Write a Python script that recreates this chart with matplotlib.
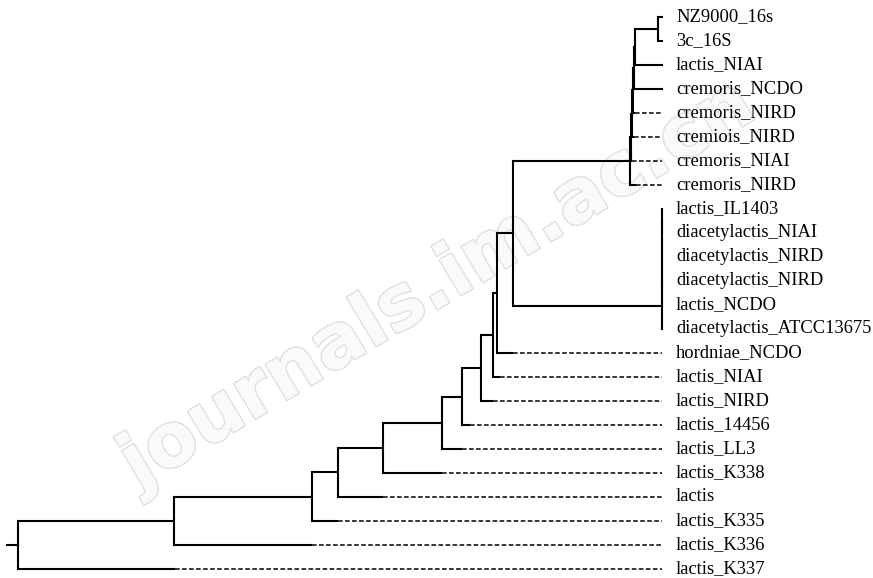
import matplotlib.pyplot as plt
import matplotlib.patheffects as pe

# leaves, top to bottom
leaf_names = ['NZ9000_16s', '3c_16S', 'lactis_NIAI', 'cremoris_NCDO', 'cremoris_NIRD',
              'cremiois_NIRD', 'cremoris_NIAI', 'cremoris_NIRD', 'lactis_IL1403',
              'diacetylactis_NIAI', 'diacetylactis_NIRD', 'diacetylactis_NIRD', 'lactis_NCDO',
              'diacetylactis_ATCC13675', 'hordniae_NCDO', 'lactis_NIAI', 'lactis_NIRD',
              'lactis_14456', 'lactis_LL3', 'lactis_K338', 'lactis', 'lactis_K335',
              'lactis_K336', 'lactis_K337']
# where the drawn (solid) branch of each leaf stops; the rest is a dashed guide
leaf_end = [0.645, 0.645, 0.645, 0.645, 0.617, 0.616, 0.614, 0.618,
            0.645, 0.645, 0.645, 0.645, 0.645, 0.645,
            0.495, 0.482, 0.475, 0.452, 0.444, 0.424, 0.365, 0.320, 0.294, 0.157]
tip_depth = 0.644

# internal nodes: name, depth from root, children (leaf index or node name)
node_names = ['root', 'A', 'B', 'C', 'D', 'E', 'F', 'G', 'H', 'I', 'J',
              'cr6', 'cr5', 'cr4', 'cr3', 'cr2', 'cr1', 'nz',
              'di5', 'di4', 'di3', 'di2', 'di1']
node_depth = [0.000, 0.156, 0.294, 0.320, 0.365, 0.424, 0.444, 0.463, 0.475, 0.479, 0.495,
              0.612, 0.613, 0.614, 0.615, 0.616, 0.617, 0.640,
              0.644, 0.644, 0.644, 0.644, 0.644]
node_kids = [['A', 23], ['B', 22], ['C', 21], ['D', 20], ['E', 19], ['F', 18], ['G', 17],
             ['H', 16], ['I', 15], ['J', 14], ['cr6', 'di5'],
             ['cr5', 7], ['cr4', 6], ['cr3', 5], ['cr2', 4], ['cr1', 3], ['nz', 2], [0, 1],
             ['di4', 13], ['di3', 12], ['di2', 11], ['di1', 10], [8, 9]]

depth = dict(zip(node_names, node_depth))
kids = dict(zip(node_names, node_kids))

fig = plt.figure(figsize=(8.73, 5.78), dpi=100)
ax = fig.add_axes([0, 0, 1, 1])
ax.set_xlim(-0.018, 0.855)
ax.set_ylim(23.375, -0.708)
ax.axis('off')

# faint watermark
ax.text(0.42, 11.2, 'journals.im.ac.cn', fontsize=54, fontweight='bold',
        rotation=31, color='#fafafa', ha='center', va='center', zorder=0,
        path_effects=[pe.withStroke(linewidth=2.0, foreground='#e0e0e0')])

LW = 1.5
def draw(n):
    d = depth[n]
    ys = []
    for k in kids[n]:
        if isinstance(k, int):
            y = k
            end = leaf_end[k]
            ax.plot([d, max(end, d)], [y, y], color='k', lw=LW, solid_capstyle='butt')
            if end < tip_depth:
                ax.plot([end, tip_depth], [y, y], color='k', lw=1.1, ls=(0, (3, 1.6)))
            ax.text(0.658, y, leaf_names[k], fontsize=13.3, family='Liberation Serif',
                    va='center', ha='left')
        else:
            y = draw(k)
            ax.plot([d, depth[k]], [y, y], color='k', lw=LW, solid_capstyle='butt')
        ys.append(y)
    ax.plot([d, d], [min(ys), max(ys)], color='k', lw=LW, solid_capstyle='projecting')
    return (min(ys) + max(ys)) / 2

ry = draw('root')
ax.plot([-0.011, 0.0], [ry, ry], color='k', lw=LW)

fig.savefig('out.png', dpi=100)
